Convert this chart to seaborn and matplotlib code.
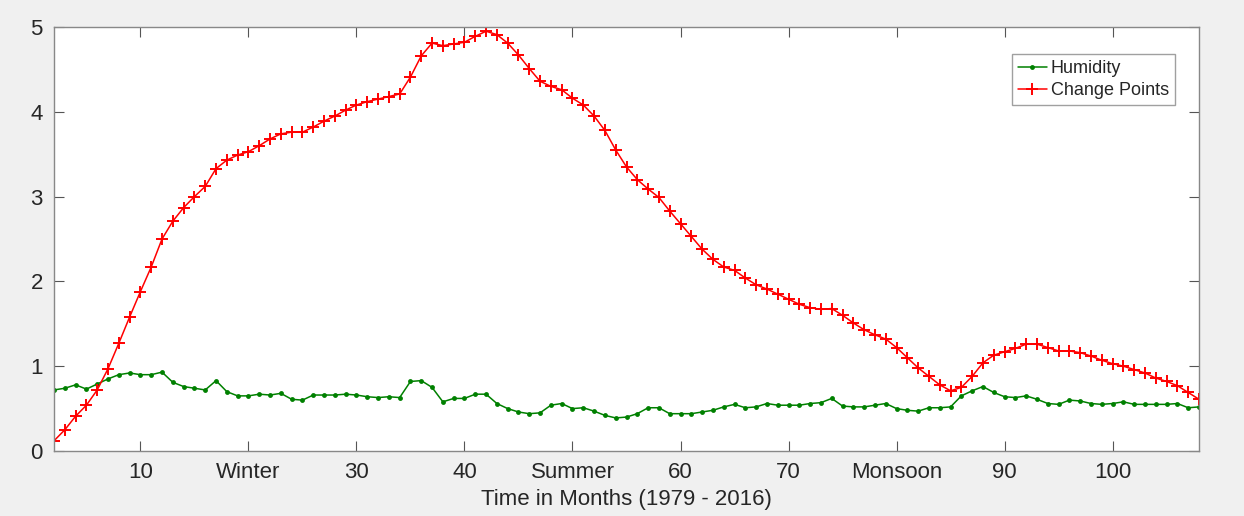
import matplotlib
matplotlib.use("Agg")
import matplotlib.pyplot as plt
import seaborn as sns
import numpy as np
import pandas as pd

months = list(range(2, 109))

humidity = [
    0.72, 0.74, 0.78, 0.73, 0.79, 0.85, 0.90, 0.92, 0.90, 0.90,
    0.93, 0.81, 0.76, 0.74, 0.72, 0.83, 0.70, 0.65, 0.65, 0.67,
    0.66, 0.68, 0.61, 0.60, 0.66, 0.66, 0.66, 0.67, 0.66, 0.64,
    0.63, 0.64, 0.63, 0.82, 0.83, 0.75, 0.58, 0.62, 0.62, 0.67,
    0.67, 0.56, 0.50, 0.46, 0.44, 0.45, 0.54, 0.56, 0.50, 0.51,
    0.47, 0.42, 0.39, 0.40, 0.44, 0.51, 0.51, 0.44, 0.44, 0.44,
    0.46, 0.48, 0.52, 0.55, 0.51, 0.52, 0.56, 0.54, 0.54, 0.54,
    0.56, 0.57, 0.62, 0.53, 0.52, 0.52, 0.54, 0.56, 0.50, 0.48,
    0.47, 0.51, 0.51, 0.52, 0.65, 0.71, 0.76, 0.69, 0.64, 0.63,
    0.65, 0.61, 0.56, 0.55, 0.60, 0.59, 0.56, 0.55, 0.56, 0.58,
    0.55, 0.55, 0.55, 0.55, 0.56, 0.51, 0.52,
]

change_points = [
    0.12, 0.25, 0.41, 0.54, 0.72, 0.97, 1.27, 1.58, 1.88, 2.17,
    2.50, 2.71, 2.87, 3.00, 3.12, 3.33, 3.43, 3.49, 3.53, 3.60,
    3.68, 3.74, 3.76, 3.76, 3.82, 3.89, 3.95, 4.02, 4.08, 4.12,
    4.15, 4.18, 4.21, 4.41, 4.66, 4.81, 4.78, 4.80, 4.82, 4.89,
    4.95, 4.91, 4.81, 4.67, 4.51, 4.36, 4.30, 4.26, 4.16, 4.08,
    3.95, 3.78, 3.55, 3.35, 3.20, 3.09, 2.99, 2.83, 2.68, 2.53,
    2.38, 2.26, 2.17, 2.13, 2.04, 1.96, 1.91, 1.85, 1.79, 1.73,
    1.69, 1.67, 1.68, 1.60, 1.51, 1.43, 1.37, 1.32, 1.22, 1.10,
    0.98, 0.88, 0.78, 0.71, 0.75, 0.88, 1.04, 1.13, 1.17, 1.21,
    1.26, 1.26, 1.22, 1.18, 1.18, 1.16, 1.12, 1.07, 1.03, 1.00,
    0.96, 0.92, 0.86, 0.82, 0.77, 0.69, 0.61,
]

xtick_pos = [10, 20, 30, 40, 50, 60, 70, 80, 90, 100]
xtick_labels = ["10", "Winter", "30", "40", "Summer", "60", "70", "Monsoon", "90", "100"]
ytick_pos = [0, 1, 2, 3, 4, 5]

sns.set_style("white")
plt.rcParams["font.family"] = ["Liberation Sans", "DejaVu Sans"]

fig = plt.figure(figsize=(12.44, 5.16), dpi=100)
fig.patch.set_facecolor("#f0f0f0")
ax = fig.add_axes([54 / 1244, 1 - 451 / 516, (1199 - 54) / 1244, (451 - 27) / 516])
ax.set_facecolor("white")

sns.lineplot(x=months, y=humidity, ax=ax, color="#008000", marker=".",
             markersize=7, markeredgewidth=0, markeredgecolor="#008000",
             linewidth=1.1, label="Humidity")
sns.lineplot(x=months, y=change_points, ax=ax, color="#ff0000", marker="+",
             markersize=8, markeredgewidth=1.4, markeredgecolor="#ff0000",
             linewidth=1.1, label="Change Points")

ax.set_xlim(2, 108)
ax.set_ylim(0, 5)
ax.set_xticks(xtick_pos)
ax.set_xticklabels(xtick_labels)
ax.set_yticks(ytick_pos)
ax.tick_params(direction="in", length=7, width=0.8, color="#555555",
               labelsize=16, labelcolor="#262626", top=True, right=True,
               bottom=True, left=True, pad=8)
for s in ax.spines.values():
    s.set_color("#888888")
    s.set_linewidth(1.0)
    s.set_visible(True)
ax.grid(False)
ax.set_xlabel("Time in Months (1979 - 2016)", fontsize=16, color="#262626", labelpad=4)
ax.set_ylabel("")

leg = ax.legend(loc="upper right", bbox_to_anchor=(0.979, 0.936), borderaxespad=0,
                fontsize=13, frameon=True, fancybox=False, edgecolor="#888888",
                handlelength=1.6, handletextpad=0.2, borderpad=0.35, labelspacing=0.25)
leg.get_frame().set_linewidth(1.0)

fig.savefig("out.png", dpi=100, facecolor=fig.get_facecolor())
